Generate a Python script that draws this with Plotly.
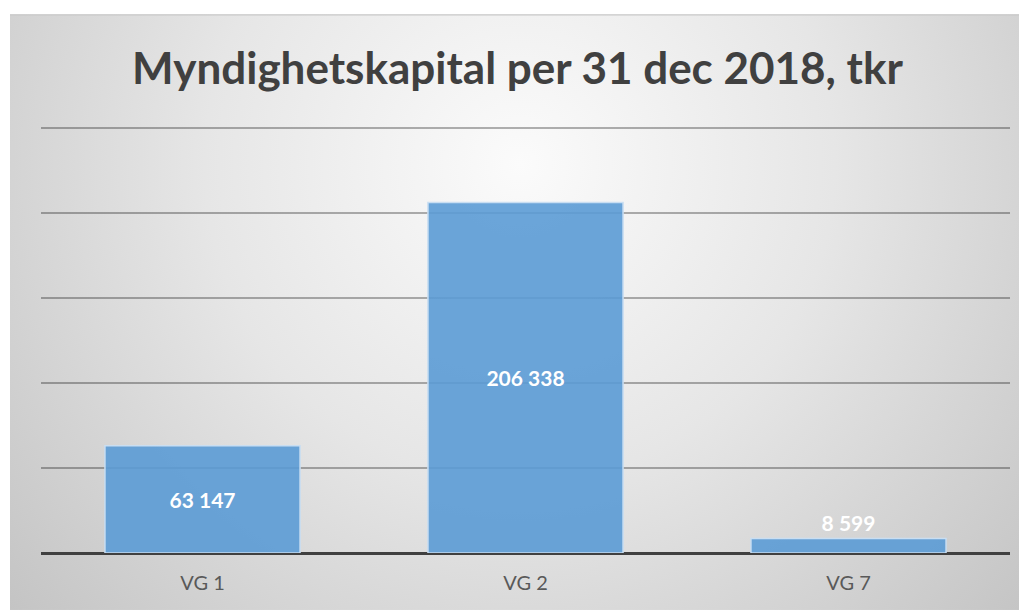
"""Myndighetskapital per 31 dec 2018 -- simple bar chart in an Excel-like style."""

import base64

import plotly.graph_objects as go

categories = ["VG 1", "VG 2", "VG 7"]
values = [63147, 206338, 8599]
label_positions = ["inside", "inside", "outside"]

TITLE = "Myndighetskapital per 31 dec 2018, tkr"
FONT = "Lato, 'Open Sans', sans-serif"
BAR_COLOR = "rgba(91,155,213,0.9)"
BAR_EDGE = "#c9def2"
GRID_COLOR = "rgba(0,0,0,0.3)"   # translucent, so it reads lighter on the bright top
AXIS_COLOR = "#404040"

# page body adds an 8px margin, so the figure is 8px smaller than the window
W, H = 1019, 602
PLOT_L, PLOT_R, PLOT_B = 33, 1002, 545
Y_TOP = 252500                      # a little headroom so the 250 000 gridline shows
PX_PER_UNIT = 425 / 250000
PLOT_T = PLOT_B - Y_TOP * PX_PER_UNIT
plot_w, plot_h = PLOT_R - PLOT_L, PLOT_B - PLOT_T

# radial grey gradient for the chart background (plotly has no paper gradients)
bg_svg = """<svg xmlns='http://www.w3.org/2000/svg' width='1017' height='596'
viewBox='0 0 1017 596' preserveAspectRatio='none'>
<defs><radialGradient id='g' gradientUnits='userSpaceOnUse' cx='510' cy='150' r='700'>
<stop offset='0' stop-color='#fbfbfb'/><stop offset='0.45' stop-color='#e6e6e6'/>
<stop offset='1' stop-color='#c2c2c2'/></radialGradient></defs>
<rect x='0' y='0' width='1017' height='596' fill='url(#g)'/>
<line x1='0' y1='0.5' x2='1017' y2='0.5' stroke='#c8c8c8' stroke-width='1.5'/>
</svg>"""
bg_uri = "data:image/svg+xml;base64," + base64.b64encode(bg_svg.encode()).decode()

fig = go.Figure()
fig.add_trace(go.Bar(
    x=categories, y=values,
    width=0.604,
    marker=dict(color=BAR_COLOR, line=dict(color=BAR_EDGE, width=1.5)),
    texttemplate="%{y:,}",
    textposition=label_positions,
    insidetextanchor="middle",
    textfont=dict(family=FONT, size=21, color="white", weight="bold"),
    outsidetextfont=dict(family=FONT, size=21, color="white", weight="bold"),
    cliponaxis=False,
    hovertemplate="%{x}: %{y:,} tkr<extra></extra>",
))

fig.add_layout_image(
    source=bg_uri, xref="paper", yref="paper",
    x=(2 - PLOT_L) / plot_w, y=(PLOT_B - 6) / plot_h,
    sizex=(W - 2) / plot_w, sizey=(H - 6) / plot_h,
    sizing="stretch", xanchor="left", yanchor="top", layer="below",
)

fig.update_layout(
    width=W, height=H,
    separators=", ",
    title=dict(text=TITLE, x=0.5, xanchor="center", y=1 - 61 / H, yanchor="middle",
               font=dict(family=FONT, size=44, color="#404040", weight="bold")),
    font=dict(family=FONT),
    paper_bgcolor="white",
    plot_bgcolor="rgba(0,0,0,0)",
    margin=dict(l=PLOT_L, r=W - PLOT_R, t=PLOT_T, b=H - PLOT_B),
    showlegend=False,
    xaxis=dict(showgrid=False, ticks="", showline=False, ticklabelstandoff=16,
               tickfont=dict(family=FONT, size=20, color="#595959")),
    yaxis=dict(range=[0, Y_TOP], dtick=50000, showticklabels=False,
               showgrid=True, gridcolor=GRID_COLOR, gridwidth=2,
               zeroline=True, zerolinecolor=AXIS_COLOR, zerolinewidth=3),
)

fig.write_html("out.html")
